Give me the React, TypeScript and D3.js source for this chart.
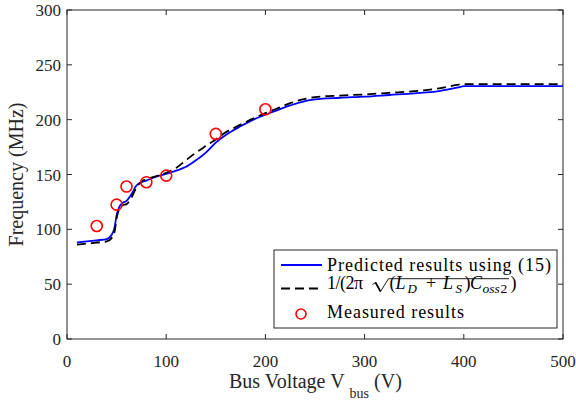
import React from "react";
import * as d3 from "d3";

const voltsModel = [10, 20, 30, 40, 45, 48, 50, 53, 56, 60, 65, 70, 75, 80, 90, 100, 110, 120, 130, 140, 150, 160, 175, 190, 200, 210, 225, 240, 250, 275, 300, 325, 350, 375, 395, 400, 450, 500];
const predicted = [88, 89, 90, 91, 95, 102, 113, 121, 124, 126, 132, 140, 143, 144.5, 148, 150.5, 153.5, 157, 163, 170, 179, 186, 194, 201, 204.5, 208, 213, 217, 218.5, 220, 221, 222.5, 224, 226, 229.5, 230.5, 230.5, 230.5];
const formula = [86, 87, 88, 89, 92, 98, 110, 119, 122, 123, 129, 138, 143.5, 145.5, 148.5, 151.5, 156, 163, 170, 176, 182, 188.5, 195.5, 202, 206, 209.5, 215, 219, 220.5, 222, 223, 224.5, 226, 228.5, 232, 232.5, 232.5, 232.5];
const voltsMeas = [30, 50, 60, 80, 100, 150, 200];
const measured = [103, 122.5, 139, 143, 149, 187, 209.5];
const xTicks = [0, 100, 200, 300, 400, 500];
const yTicks = [0, 50, 100, 150, 200, 250, 300];

const W = 576, H = 405;
const L = 67, R = 563, T = 10, B = 339;
const FONT = "Liberation Serif, Times New Roman, DejaVu Serif, serif";
const AX = "#262626";

export default function App() {
  const x = d3.scaleLinear().domain([0, 500]).range([L, R]);
  const y = d3.scaleLinear().domain([0, 300]).range([B, T]);
  const line = d3.line<number>().x((_, i) => x(voltsModel[i])).y((d) => y(d)).curve(d3.curveMonotoneX);
  const f = { fontFamily: FONT };

  const lx = 274, ly = 250, lw = 283, lh = 78;
  const fb = 289; // formula baseline
  return (
    <svg width={W} height={H} style={{ position: "absolute", left: 0, top: 0, background: "#fff", fontFamily: FONT }}>
      <rect x={0} y={0} width={W} height={H} fill="#fff" />
      <path d={line(predicted) || ""} fill="none" stroke="#0000ff" strokeWidth={1.8} />
      <path d={line(formula) || ""} fill="none" stroke="#000" strokeWidth={1.8} strokeDasharray="9,5" />
      {voltsMeas.map((v, i) => (
        <circle key={i} cx={x(v)} cy={y(measured[i])} r={5.5} fill="none" stroke="#ff0000" strokeWidth={1.6} />
      ))}
      <rect x={L} y={T} width={R - L} height={B - T} fill="none" stroke={AX} strokeWidth={1} />
      {xTicks.map((t) => (
        <g key={"x" + t}>
          <line x1={x(t)} x2={x(t)} y1={B} y2={B - 5} stroke={AX} />
          <line x1={x(t)} x2={x(t)} y1={T} y2={T + 5} stroke={AX} />
          <text x={x(t)} y={367} textAnchor="middle" fontSize={17} fill={AX} style={f}>{t}</text>
        </g>
      ))}
      {yTicks.map((t) => (
        <g key={"y" + t}>
          <line x1={L} x2={L + 5} y1={y(t)} y2={y(t)} stroke={AX} />
          <line x1={R} x2={R - 5} y1={y(t)} y2={y(t)} stroke={AX} />
          <text x={61} y={y(t) + 6} textAnchor="end" fontSize={17} fill={AX} style={f}>{t}</text>
        </g>
      ))}
      <text x={229} y={388} fontSize={20} fill={AX} style={f}>
        Bus Voltage V<tspan dx={5} dy={9.5} fontSize={14}>bus</tspan><tspan dy={-9.5}> (V)</tspan>
      </text>
      <text transform={`translate(23,${(T + B) / 2}) rotate(-90)`} textAnchor="middle" fontSize={20} fill={AX} style={f}>
        Frequency (MHz)
      </text>
      <rect x={lx} y={ly} width={lw} height={lh} fill="#fff" stroke={AX} strokeWidth={1} />
      <line x1={281} x2={322} y1={265} y2={265} stroke="#0000ff" strokeWidth={1.8} />
      <text x={327} y={270.5} fontSize={18} fill="#000" style={f} textLength={224} lengthAdjust="spacing">Predicted results using (15)</text>
      <line x1={281} x2={322} y1={288.5} y2={288.5} stroke="#000" strokeWidth={1.8} strokeDasharray="9,5" />
      <g fill="#000" fontSize={18} style={f}>
        <text x={327} y={fb} textLength={36} lengthAdjust="spacing">1/(2π</text>
        <text x={389.5} y={fb}>(</text>
        <text x={395.5} y={fb} fontStyle="italic">L</text>
        <text x={407.5} y={fb + 3.5} fontSize={13} fontStyle="italic">D</text>
        <text x={426} y={fb}>+</text>
        <text x={443} y={fb} fontStyle="italic">L</text>
        <text x={455.5} y={fb + 3.5} fontSize={13} fontStyle="italic">S</text>
        <text x={464.5} y={fb}>)</text>
        <text x={470} y={fb} fontStyle="italic">C</text>
        <text x={482.5} y={fb + 3.5} fontSize={13.5} fontStyle="italic">oss</text>
        <text x={500.5} y={fb + 3.5} fontSize={13.5}>2</text>
        <text x={510.5} y={fb}>)</text>
      </g>
      <path d="M372.5,284.5 L375.5,282.5 L380.5,291.5 L388.5,278.7 L509,278.7" fill="none" stroke="#000" strokeWidth={0.9} />
      <path d="M375.5,282.5 L380.5,291.5" fill="none" stroke="#000" strokeWidth={1.6} />
      <circle cx={301} cy={314} r={5} fill="none" stroke="#ff0000" strokeWidth={1.6} />
      <text x={327} y={317.5} fontSize={18} fill="#000" style={f} textLength={137} lengthAdjust="spacing">Measured results</text>
    </svg>
  );
}
